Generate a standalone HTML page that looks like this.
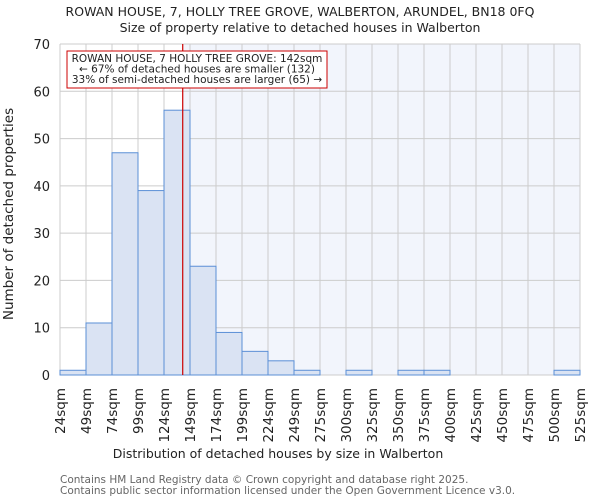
<!DOCTYPE html>
<html><head><meta charset="utf-8"><style>
body{margin:0;background:#fff;font-family:"DejaVu Sans","Liberation Sans",sans-serif}
svg text{font-family:"DejaVu Sans","Liberation Sans",sans-serif}
</style></head><body>
<svg id="chart" width="600" height="500" xmlns="http://www.w3.org/2000/svg">
<text x="300" y="16" text-anchor="middle" font-size="12.5" fill="#222">ROWAN HOUSE, 7, HOLLY TREE GROVE, WALBERTON, ARUNDEL, BN18 0FQ</text>
<text x="300" y="32" text-anchor="middle" font-size="12.5" fill="#222">Size of property relative to detached houses in Walberton</text>
<g id="plot"></g>
<text x="278" y="458" text-anchor="middle" font-size="12.5" fill="#222">Distribution of detached houses by size in Walberton</text>
<text transform="translate(13,214) rotate(-90)" text-anchor="middle" font-size="13.5" fill="#222">Number of detached properties</text>
<text x="60" y="483" font-size="10.5" fill="#666">Contains HM Land Registry data © Crown copyright and database right 2025.</text>
<text x="60" y="494" font-size="10.5" fill="#666">Contains public sector information licensed under the Open Government Licence v3.0.</text>
</svg>
<script>
const binLabels=["24sqm","49sqm","74sqm","99sqm","124sqm","149sqm","174sqm","199sqm","224sqm","249sqm","275sqm","300sqm","325sqm","350sqm","375sqm","400sqm","425sqm","450sqm","475sqm","500sqm","525sqm"];
const counts=[1,11,47,39,56,23,9,5,3,1,0,1,0,1,1,0,0,0,0,1];
const yTicks=[0,10,20,30,40,50,60,70];
const binStart=24, binWidth=25, propertySize=142;
const X0=60,X1=580,Y0=375,Y1=44,YMAX=70;
const ns="http://www.w3.org/2000/svg";
const g=document.getElementById('plot');
const bw=(X1-X0)/counts.length;
const xi=i=>X0+i*bw;
const xv=v=>X0+(v-binStart)/binWidth*bw;
const y=v=>Y0-(v/YMAX)*(Y0-Y1);
function mk(t,a){const e=document.createElementNS(ns,t);for(const k in a)e.setAttribute(k,a[k]);g.appendChild(e);return e;}
const rx=xv(propertySize);
let e=mk('rect',{x:rx,y:Y1,width:X1-rx,height:Y0-Y1,fill:'#f2f5fc'});


for(let i=0;i<=counts.length;i++){
 e=mk('line',{x1:xi(i),x2:xi(i),y1:Y1,y2:Y0,stroke:'#ccc','stroke-width':1});
 
 
}
yTicks.forEach(t=>{
 e=mk('line',{x1:X0,x2:X1,y1:y(t),y2:y(t),stroke:'#ccc','stroke-width':1});
 
 
 e=mk('text',{x:X0-10,y:y(t)+5,'text-anchor':'end','font-size':13,fill:'#222'});
 e.textContent=t;
 
 
});
counts.forEach((c,i)=>{
 e=mk('rect',{x:xi(i),y:y(c),width:bw,height:Y0-y(c),fill:'#dae3f3',stroke:'#5b8fd6','stroke-width':1});
 
 
});
binLabels.forEach((l,i)=>{
 const x=xi(i)+5;
 e=mk('text',{transform:`translate(${x},388) rotate(-90)`,'text-anchor':'end','font-size':13.5,fill:'#222'});
 e.textContent=l;
 
 
});
e=mk('line',{x1:rx,x2:rx,y1:Y1,y2:Y0,stroke:'#cc0000','stroke-width':1.2});


e=mk('rect',{x:67,y:51,width:260,height:37,fill:'#fff',stroke:'#cc0000','stroke-width':1});


["ROWAN HOUSE, 7 HOLLY TREE GROVE: 142sqm","← 67% of detached houses are smaller (132)","33% of semi-detached houses are larger (65) →"].forEach((t,i)=>{
 e=mk('text',{x:197,y:62+i*10.5,'text-anchor':'middle','font-size':10.5,fill:'#222'});
 e.textContent=t;
 
 
});
</script>
</body></html>
